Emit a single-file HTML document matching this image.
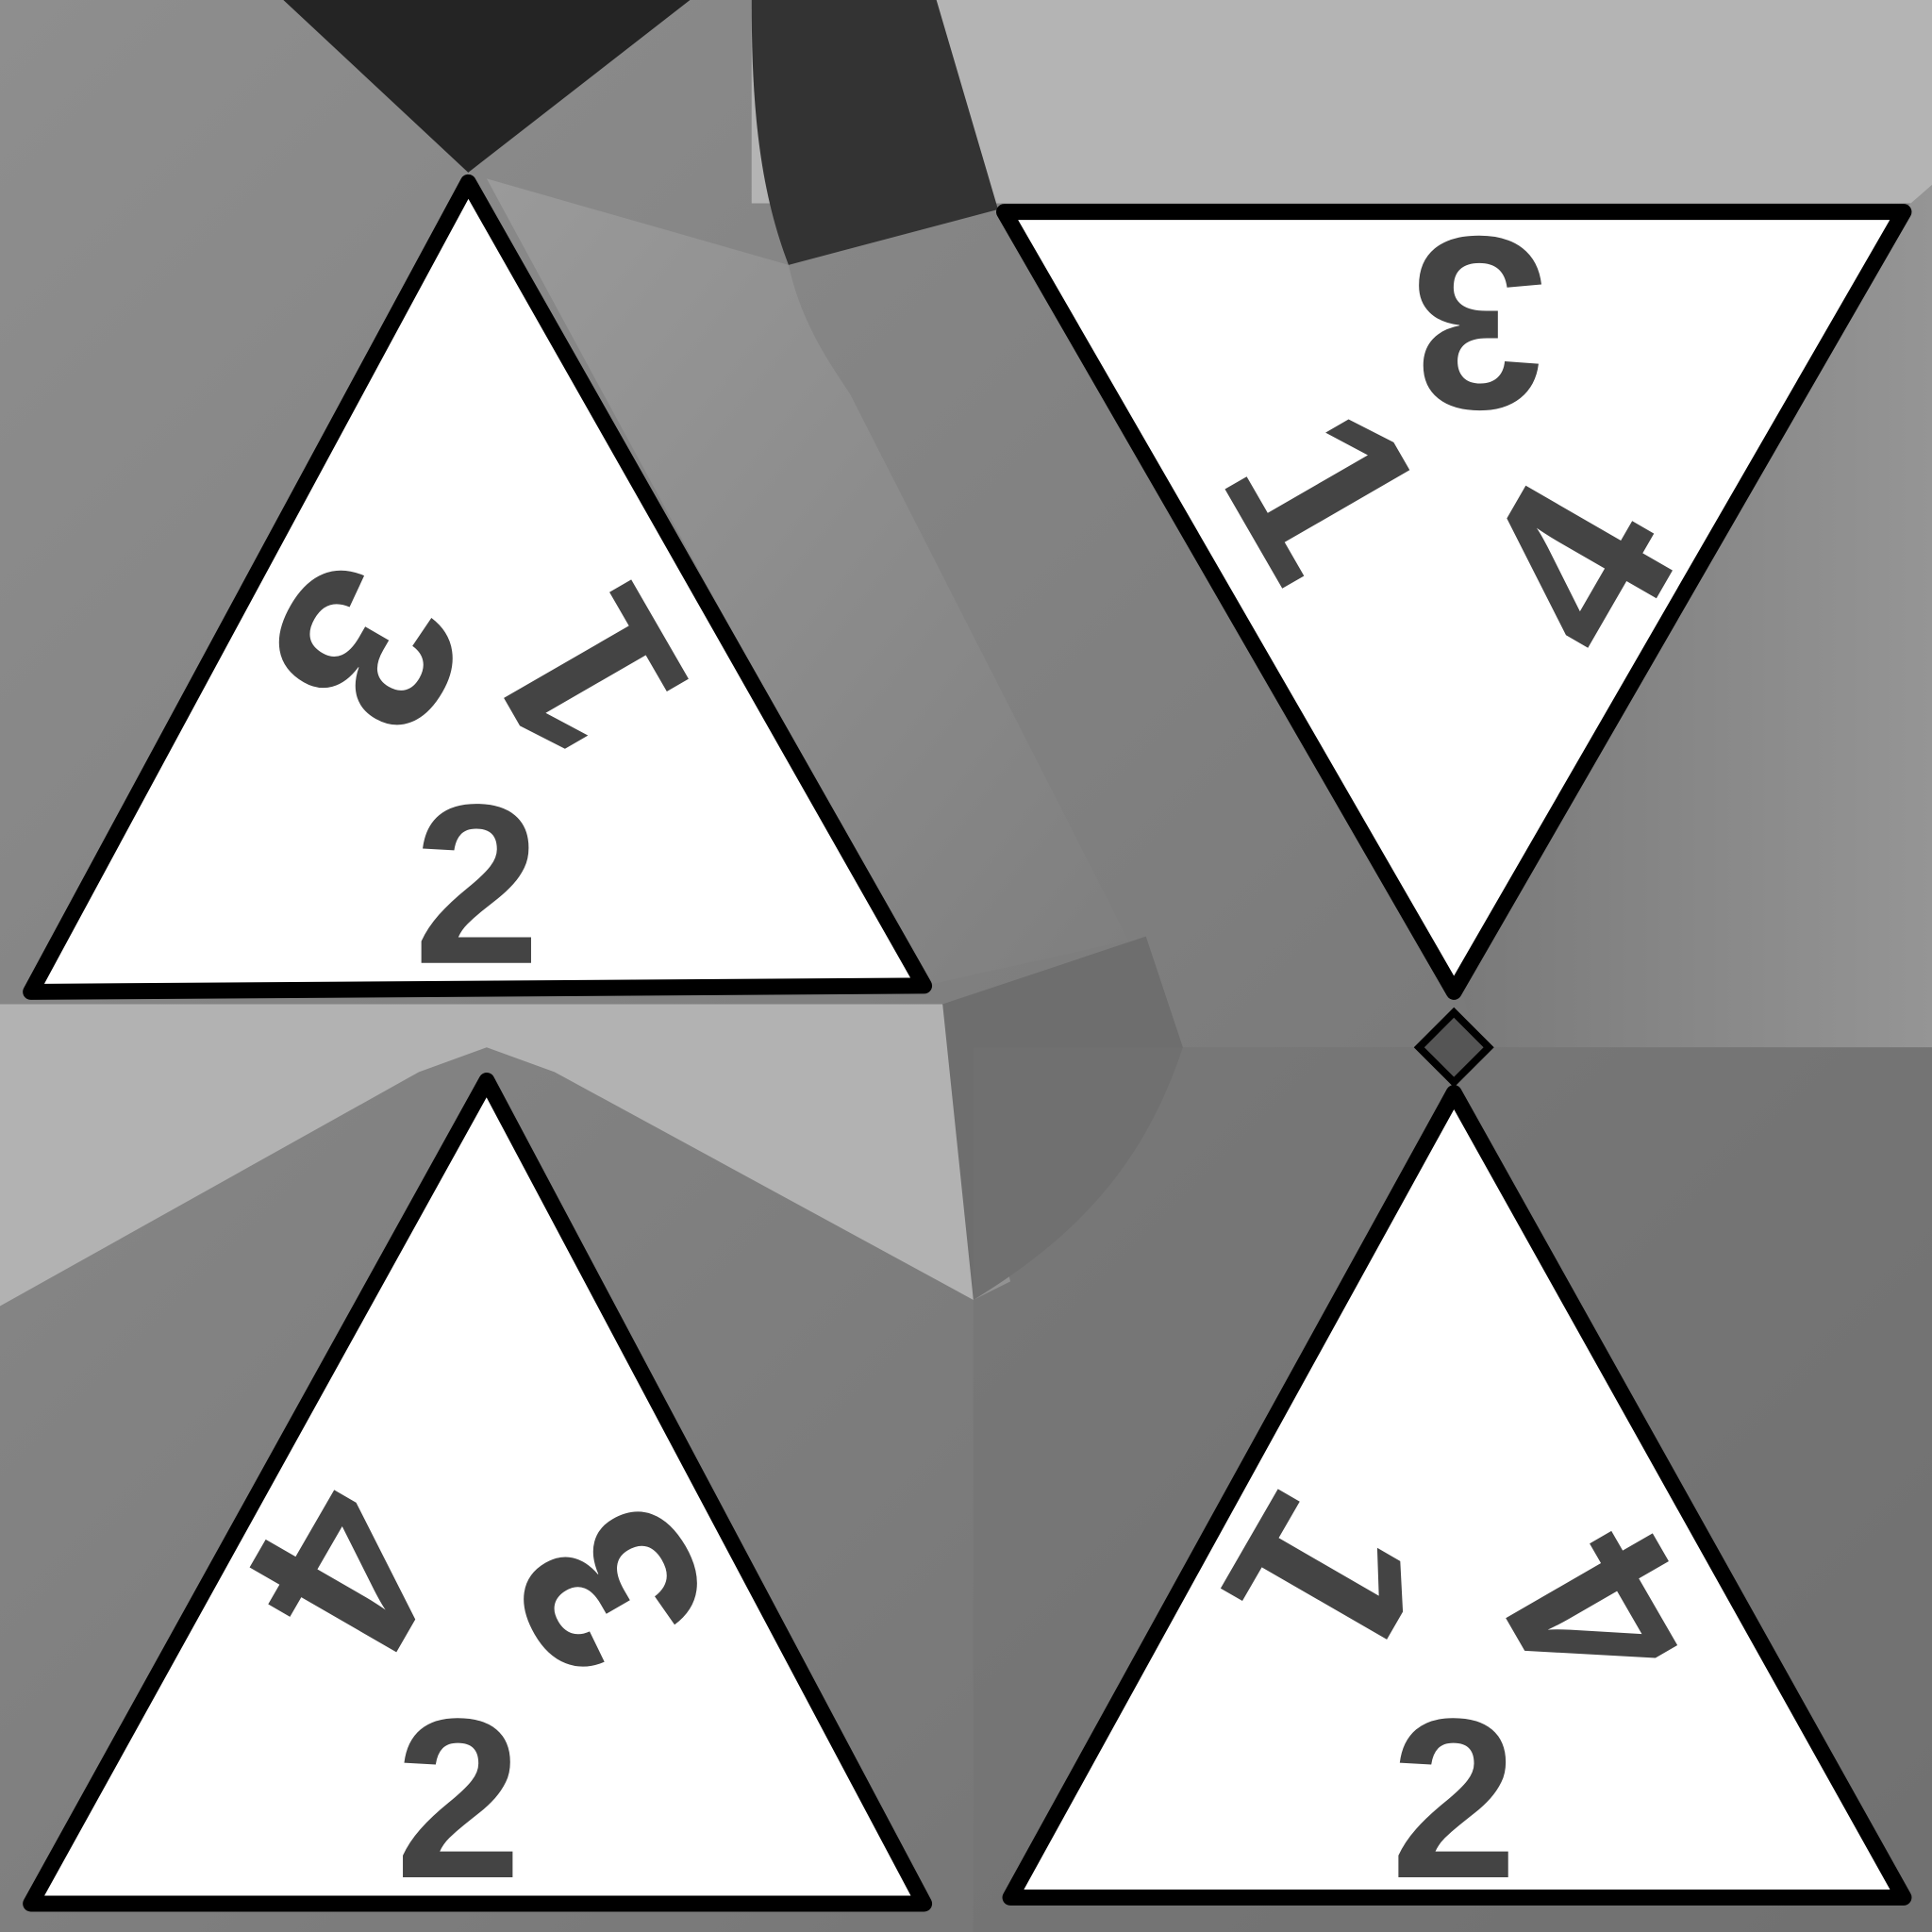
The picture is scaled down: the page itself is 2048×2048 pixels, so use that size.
<!DOCTYPE html>
<html><head><meta charset="utf-8"><style>html,body{margin:0;padding:0;background:#888}svg{display:block}</style></head>
<body>
<svg width="2048" height="2048" viewBox="0 0 1568 1568" xmlns="http://www.w3.org/2000/svg">
<defs>
<linearGradient id="gA" x1="0" y1="0" x2="1" y2="1"><stop offset="0" stop-color="#8e8e8e"/><stop offset="1" stop-color="#707070"/></linearGradient>
<linearGradient id="gB" x1="0" y1="0" x2="1" y2="0"><stop offset="0" stop-color="#7a7a7a"/><stop offset="1" stop-color="#959595"/></linearGradient>
<linearGradient id="gC" x1="0" y1="0" x2="1" y2="1"><stop offset="0" stop-color="#9a9a9a"/><stop offset="1" stop-color="#7c7c7c"/></linearGradient>
</defs>
<rect width="1568" height="1568" fill="url(#gA)"/>
<polygon points="230,0 560,0 380,140" fill="#242424"/>
<rect x="610" y="0" width="958" height="165" fill="#b4b4b4"/>
<path d="M610,0 L760,0 L810,170 L640,215 C615,150 610,80 610,0 Z" fill="#333"/>
<path d="M395,145 L640,215 C650,260 670,290 690,320 L960,850 L930,760 L750,800 Z" fill="url(#gC)"/>
<path d="M1545,170 L1568,150 L1568,850 L1200,850 L1185,800 Z" fill="url(#gB)"/>
<path d="M0,815 L765,815 L820,1040 L790,1055 L450,870 L395,850 L340,870 L0,1060 Z" fill="#b2b2b2"/>
<path d="M765,815 L930,760 L960,850 C930,940 880,1000 790,1055 Z" fill="#6e6e6e"/>
<rect x="790" y="850" width="778" height="718" fill="#727272" opacity="0.5"/>
<rect x="1160" y="830" width="40" height="40" transform="rotate(45 1180 850)" fill="#555" stroke="#000" stroke-width="6"/>
<g fill="#fff" stroke="#000" stroke-width="13" stroke-linejoin="round">
<polygon points="380,148 25,805 750,800"/>
<polygon points="815,172 1545,172 1180,805"/>
<polygon points="395,877 25,1545 750,1545"/>
<polygon points="1180,887 820,1540 1545,1540"/>
</g>
<g font-family="'Liberation Sans', Arial, sans-serif" font-weight="bold" font-size="200" fill="#444" text-anchor="middle" dominant-baseline="central">
<text x="387" y="718" font-size="185">2</text>
<text transform="translate(297,527) rotate(120)">3</text>
<text transform="translate(478,548) rotate(240)">1</text>
<text transform="translate(1200,262) rotate(180)">3</text>
<text transform="translate(1280,460) rotate(300)">4</text>
<text transform="translate(1075,400) rotate(60)">1</text>
<text x="372" y="1460" font-size="185">2</text>
<text transform="translate(280,1275) rotate(120)">4</text>
<text transform="translate(495,1290) rotate(240)">3</text>
<text x="1180" y="1460" font-size="185">2</text>
<text transform="translate(1075,1280) rotate(120)">1</text>
<text transform="translate(1300,1310) rotate(240)">4</text>
</g>
</svg>
</body></html>
